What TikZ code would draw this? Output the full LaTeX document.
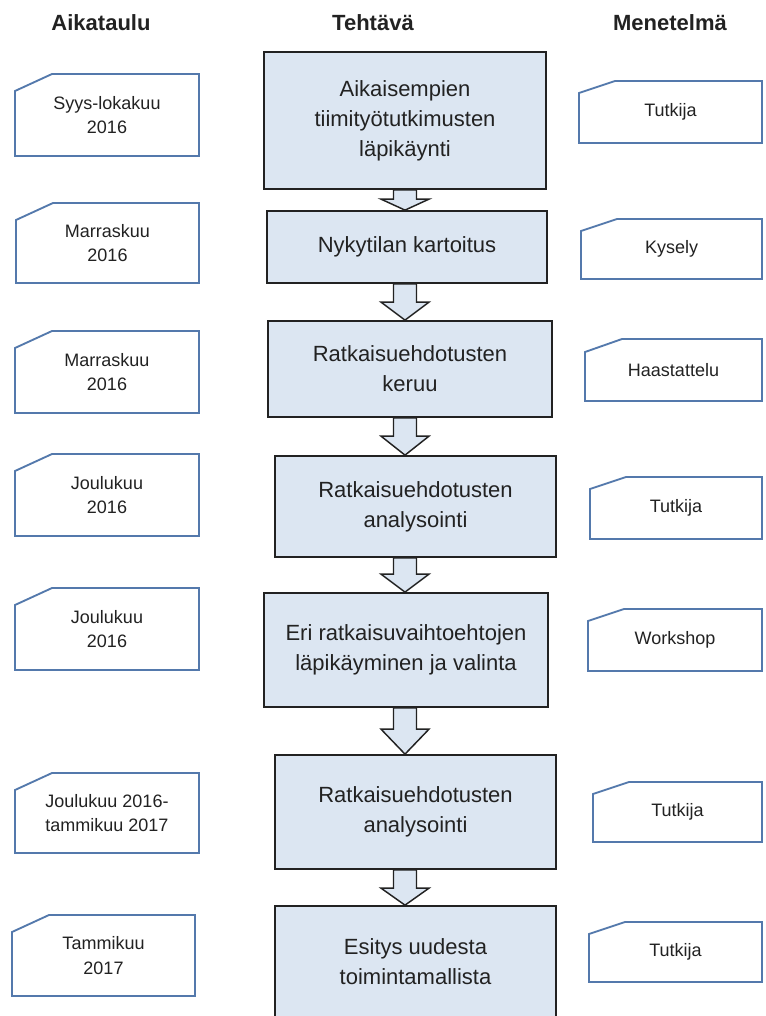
\documentclass[tikz,border=0pt]{standalone}
\usepackage{fontspec}
\setmainfont{Liberation Sans}
\usetikzlibrary{calc}

\definecolor{taskfill}{RGB}{220,230,242}
\definecolor{noteblue}{RGB}{84,121,172}
\definecolor{inkgray}{RGB}{34,34,34}

% chamfered note box: name, left, top, right, bottom, chamfer x, chamfer y, text
\newcommand{\notebox}[8]{%
  \draw[noteline] (#2,#3+#7) -- (#2+#6,#3) -- (#4,#3) -- (#4,#5) -- (#2,#5) -- cycle;
  \node[notetext] (#1) at ({(#2+#4)/2},{(#3+#5)/2}) {#8};
}
% block arrow between two task boxes: upper, lower, head length
\newcommand{\flowarrow}[3]{%
  \draw[flowline] ($(#1.south -| col)+(-11.5,0)$) -- ($(#2.north -| col)+(-11.5,-#3)$)
    -- ++(-12.5,0) -- (#2.north -| col) -- ($(#2.north -| col)+(24,-#3)$)
    -- ++(-12.5,0) -- ($(#1.south -| col)+(11.5,0)$) -- cycle;
}

\begin{document}
\begin{tikzpicture}[x=0.75pt,y=-0.75pt,
    head/.style={font=\fontsize{16.5}{20}\selectfont\bfseries, text=inkgray},
    taskbox/.style={draw=inkgray, line width=1.3pt, fill=taskfill, text=inkgray,
      align=center, inner sep=0pt, font=\fontsize{16.5}{22.5}\selectfont},
    noteline/.style={draw=noteblue, line width=1.4pt, fill=white, line join=miter},
    notetext/.style={align=center, inner sep=0pt, text=inkgray,
      font=\fontsize{13.5}{18.4}\selectfont},
    flowline/.style={draw=inkgray, line width=1.1pt, fill=taskfill, line join=miter}]
  \clip (0,0) rectangle (765,1016);
  \coordinate (col) at (405,0);

  % column headings
  \node[head] (hdtime) at (101,23) {Aikataulu};
  \node[head] (hdtask) at (373,23) {Tehtävä};
  \node[head] (hdmeth) at (670,23) {Menetelmä};

  % tasks
  \node[taskbox, minimum width=211.5pt, minimum height=102.75pt] (task1) at (405,120.5)
    {Aikaisempien\\tiimityötutkimusten\\läpikäynti};
  \node[taskbox, minimum width=210pt, minimum height=54pt] (task2) at (407,247)
    {Nykytilan kartoitus};
  \node[taskbox, minimum width=213pt, minimum height=72pt] (task3) at (410,369)
    {Ratkaisuehdotusten\\keruu};
  \node[taskbox, minimum width=210.75pt, minimum height=75.75pt] (task4) at (415.5,506.5)
    {Ratkaisuehdotusten\\analysointi};
  \node[taskbox, minimum width=213pt, minimum height=85.5pt] (task5) at (406,650)
    {Eri ratkaisuvaihtoehtojen\\läpikäyminen ja valinta};
  \node[taskbox, minimum width=210.75pt, minimum height=85.5pt] (task6) at (415.5,812)
    {Ratkaisuehdotusten\\analysointi};
  \node[taskbox, minimum width=210.75pt, minimum height=84pt] (task7) at (415.5,962)
    {Esitys uudesta\\toimintamallista};

  \flowarrow{task1}{task2}{11}
  \flowarrow{task2}{task3}{18}
  \flowarrow{task3}{task4}{19}
  \flowarrow{task4}{task5}{18}
  \flowarrow{task5}{task6}{25}
  \flowarrow{task6}{task7}{17}

  % schedule
  \notebox{time1}{15}{74}{199}{156}{37}{17}{Syys-lokakuu\\2016}
  \notebox{time2}{16}{203}{199}{283}{37}{17}{Marraskuu\\2016}
  \notebox{time3}{15}{331}{199}{413}{37}{17}{Marraskuu\\2016}
  \notebox{time4}{15}{454}{199}{536}{37}{17}{Joulukuu\\2016}
  \notebox{time5}{15}{588}{199}{670}{37}{17}{Joulukuu\\2016}
  \notebox{time6}{15}{773}{199}{853}{37}{17}{Joulukuu 2016-\\tammikuu 2017}
  \notebox{time7}{12}{915}{195}{996}{37}{17}{Tammikuu\\2017}

  % methods
  \notebox{meth1}{579}{81}{762}{143}{36}{12}{Tutkija}
  \notebox{meth2}{581}{219}{762}{279}{36}{12}{Kysely}
  \notebox{meth3}{585}{339}{762}{401}{37}{13}{Haastattelu}
  \notebox{meth4}{590}{477}{762}{539}{36}{12}{Tutkija}
  \notebox{meth5}{588}{609}{762}{671}{36}{12}{Workshop}
  \notebox{meth6}{593}{782}{762}{842}{36}{12}{Tutkija}
  \notebox{meth7}{589}{922}{762}{982}{36}{12}{Tutkija}
\end{tikzpicture}
\end{document}
